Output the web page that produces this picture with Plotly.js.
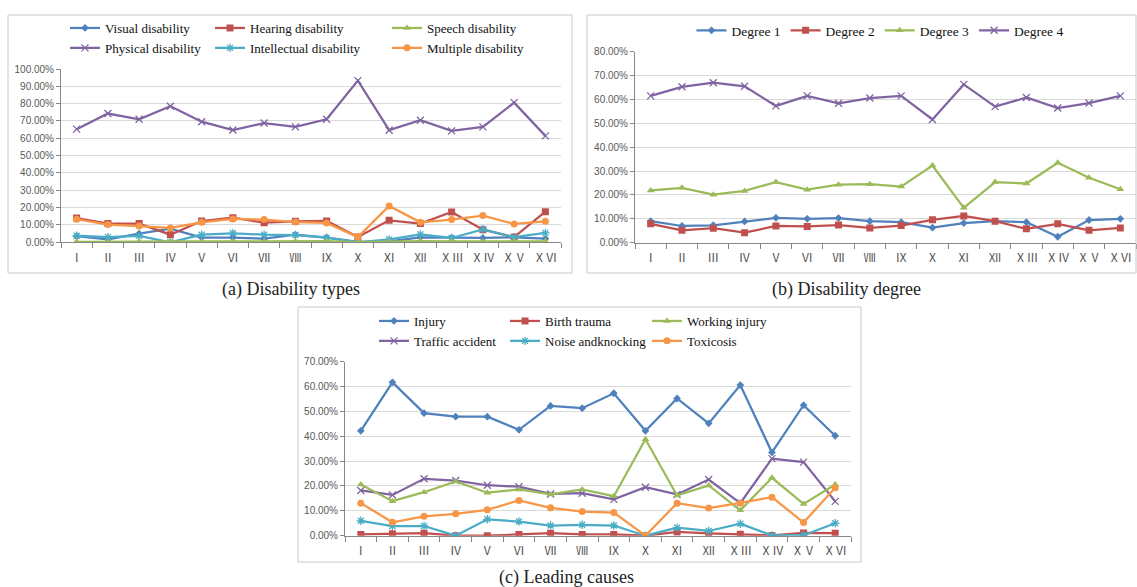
<!DOCTYPE html>
<html>
<head>
<meta charset="utf-8">
<script src="https://cdn.plot.ly/plotly-3.0.1.min.js"></script>
<style>html,body{margin:0;padding:0;background:#fff;}#chart{width:1137px;height:587px;}</style>
</head>
<body>
<div id="chart"></div>
<script>
// Categories (regions I..XVI)
const categories = ['Ⅰ','Ⅱ','Ⅲ','Ⅳ','Ⅴ','Ⅵ','Ⅶ','Ⅷ','Ⅸ','Ⅹ','Ⅺ','Ⅻ','ⅩⅢ','ⅩⅣ','ⅩⅤ','ⅩⅥ'];

// (a) Disability types, %
const visualDisability       = [3.5, 1.7, 5.0, 7.9, 2.7, 2.7, 2.1, 4.4, 2.7, 0.2, 0.6, 2.9, 2.7, 2.5, 2.9, 2.1];
const hearingDisability      = [14.0, 10.8, 10.8, 4.4, 12.3, 14.2, 11.3, 12.1, 12.3, 3.0, 12.7, 10.8, 17.5, 7.3, 3.0, 17.7];
const speechDisability       = [0.3, 0.2, 0.4, 0.5, 0.3, 0.5, 0.5, 0.6, 0.7, 0.1, 0.5, 0.7, 0.6, 0.4, 0.5, 0.6];
const physicalDisability     = [65.3, 74.3, 71.0, 78.5, 69.6, 64.8, 68.8, 66.6, 71.0, 93.3, 64.7, 70.4, 64.3, 66.6, 80.6, 61.4];
const intellectualDisability = [3.8, 3.0, 3.7, 0.0, 4.4, 5.2, 4.4, 4.2, 2.7, 0.0, 1.7, 4.6, 2.5, 7.5, 3.0, 5.4];
const multipleDisability     = [13.3, 10.2, 9.4, 8.3, 11.5, 13.5, 13.1, 11.7, 11.2, 3.0, 21.0, 11.5, 13.1, 15.4, 10.6, 12.1];

// (b) Disability degree, %
const degree1 = [9.0, 7.0, 7.3, 8.9, 10.4, 10.0, 10.3, 9.0, 8.6, 6.3, 8.2, 9.0, 8.6, 2.5, 9.5, 10.0];
const degree2 = [7.9, 5.2, 6.1, 4.2, 7.0, 6.8, 7.4, 6.2, 7.2, 9.6, 11.2, 9.0, 5.8, 7.9, 5.2, 6.2];
const degree3 = [21.9, 23.0, 20.1, 21.7, 25.4, 22.2, 24.3, 24.5, 23.5, 32.3, 14.6, 25.4, 24.8, 33.5, 27.2, 22.4];
const degree4 = [61.5, 65.3, 67.0, 65.5, 57.3, 61.5, 58.4, 60.6, 61.5, 51.6, 66.3, 57.0, 60.8, 56.4, 58.5, 61.5];

// (c) Leading causes, %
const injury         = [42.2, 61.7, 49.3, 47.9, 47.9, 42.6, 52.2, 51.3, 57.3, 42.2, 55.2, 45.2, 60.6, 33.5, 52.5, 40.2];
const birthTrauma    = [0.5, 0.8, 1.0, 0.0, 0.0, 0.5, 1.0, 0.5, 0.5, 0.0, 1.5, 0.9, 0.6, 0.1, 1.1, 1.0];
const workingInjury  = [20.6, 13.9, 17.5, 21.8, 17.3, 18.6, 16.6, 18.6, 15.9, 38.8, 16.2, 20.2, 10.2, 23.3, 12.8, 20.6];
const trafficAccident= [18.2, 16.4, 22.9, 22.2, 20.3, 19.7, 16.8, 17.1, 14.6, 19.5, 16.6, 22.6, 13.1, 31.0, 29.6, 13.8];
const noiseKnocking  = [6.0, 3.9, 3.9, 0.0, 6.6, 5.7, 4.1, 4.4, 4.1, 0.0, 3.2, 1.9, 4.8, 0.1, 0.2, 5.0];
const toxicosis      = [13.1, 5.4, 7.8, 8.8, 10.4, 14.2, 11.2, 9.7, 9.3, 0.0, 13.1, 11.1, 13.2, 15.5, 5.3, 19.3];

const C = {blue:'#4F81BD', red:'#C0504D', green:'#9BBB59', purple:'#8064A2', cyan:'#4BACC6', orange:'#F79646'};
const W = 1137, H = 587;
const px = v => v / W;
const py = v => 1 - v / H;
const SERIF = 'Liberation Serif';

function tr(name, y, color, symbol, size, xa, ya, legend) {
  const thin = symbol.indexOf('x') === 0 || symbol.indexOf('asterisk') === 0;
  return {
    type: 'scatter', mode: 'lines+markers', name: name,
    x: categories, y: y, xaxis: xa, yaxis: ya, legend: legend,
    line: {color: color, width: 2.25},
    marker: {color: color, symbol: symbol, size: size, line: {color: color, width: thin ? 1.3 : 0}},
    hoverinfo: 'x+y+name'
  };
}

const data = [
  tr('Visual disability', visualDisability, C.blue, 'diamond', 6, 'x', 'y', 'legend'),
  tr('Physical disability', physicalDisability, C.purple, 'x-thin', 7, 'x', 'y', 'legend'),
  tr('Hearing disability', hearingDisability, C.red, 'square', 7, 'x', 'y', 'legend2'),
  tr('Intellectual disability', intellectualDisability, C.cyan, 'asterisk', 7, 'x', 'y', 'legend2'),
  tr('Speech disability', speechDisability, C.green, 'triangle-up', 7, 'x', 'y', 'legend3'),
  tr('Multiple disability', multipleDisability, C.orange, 'circle', 7, 'x', 'y', 'legend3'),

  tr('Degree 1', degree1, C.blue, 'diamond', 6, 'x2', 'y2', 'legend4'),
  tr('Degree 2', degree2, C.red, 'square', 7, 'x2', 'y2', 'legend4'),
  tr('Degree 3', degree3, C.green, 'triangle-up', 7, 'x2', 'y2', 'legend4'),
  tr('Degree 4', degree4, C.purple, 'x-thin', 7, 'x2', 'y2', 'legend4'),

  tr('Injury', injury, C.blue, 'diamond', 6, 'x3', 'y3', 'legend5'),
  tr('Traffic accident', trafficAccident, C.purple, 'x-thin', 7, 'x3', 'y3', 'legend5'),
  tr('Birth trauma', birthTrauma, C.red, 'square', 7, 'x3', 'y3', 'legend6'),
  tr('Noise andknocking', noiseKnocking, C.cyan, 'asterisk', 7, 'x3', 'y3', 'legend6'),
  tr('Working injury', workingInjury, C.green, 'triangle-up', 7, 'x3', 'y3', 'legend7'),
  tr('Toxicosis', toxicosis, C.orange, 'circle', 7, 'x3', 'y3', 'legend7')
];

function xaxis(d0, d1, anchor) {
  return {domain: [px(d0), px(d1)], anchor: anchor, type: 'category', range: [-0.5, 15.5],
    showline: true, linecolor: '#868686', linewidth: 1, ticks: 'outside', tickson: 'boundaries',
    ticklen: 5, tickcolor: '#868686', showgrid: false, zeroline: false, tickangle: 0,
    ticklabelstandoff: 4,
    tickfont: {family: 'Noto Sans CJK SC', size: 12, color: '#595959'}};
}
function yaxis(top, bottom, maxv, anchor) {
  return {domain: [py(bottom), py(top)], anchor: anchor, range: [0, maxv], dtick: 10, tick0: 0,
    tickformat: '.2f', ticksuffix: '%', showline: true, linecolor: '#868686', linewidth: 1,
    ticks: 'outside', ticklen: 4, tickcolor: '#868686', gridcolor: '#d9d9d9', gridwidth: 1,
    zeroline: false, tickfont: {family: 'Liberation Sans', size: 10, color: '#595959'}};
}
function leg(textX, rowTop) {
  return {x: px(textX - 40), y: py(rowTop), xanchor: 'left', yanchor: 'top', orientation: 'v',
    bgcolor: 'rgba(0,0,0,0)', borderwidth: 0, tracegroupgap: 0,
    font: {family: SERIF, size: 13, color: '#111'}};
}

const boxStyle = {type: 'rect', xref: 'paper', yref: 'paper', line: {color: '#c8c8c8', width: 1}, fillcolor: 'rgba(0,0,0,0)'};
const capFont = {family: SERIF, size: 18, color: '#222'};

const layout = {
  width: W, height: H, margin: {l: 0, r: 0, t: 0, b: 0},
  paper_bgcolor: '#fff', plot_bgcolor: '#fff', showlegend: true,
  xaxis: xaxis(61, 561, 'y'),
  yaxis: yaxis(69, 242.3, 100, 'x'),
  xaxis2: xaxis(635, 1136, 'y2'),
  yaxis2: yaxis(51.7, 242.7, 80, 'x2'),
  xaxis3: xaxis(345, 851, 'y3'),
  yaxis3: yaxis(361.7, 535.7, 70, 'x3'),
  legend: leg(105, 13),
  legend2: leg(250, 13),
  legend3: leg(427, 13),
  legend4: {x: px(880), y: py(15), xanchor: 'center', yanchor: 'top', orientation: 'h',
    bgcolor: 'rgba(0,0,0,0)', borderwidth: 0, font: {family: SERIF, size: 13.5, color: '#111'}},
  legend5: leg(414, 306),
  legend6: leg(545, 306),
  legend7: leg(687, 306),
  shapes: [
    Object.assign({}, boxStyle, {x0: px(8), x1: px(572), y0: py(273), y1: py(15)}),
    Object.assign({}, boxStyle, {x0: px(587), x1: px(1136), y0: py(273), y1: py(15)}),
    Object.assign({}, boxStyle, {x0: px(298), x1: px(861), y0: py(562), y1: py(307)})
  ],
  annotations: [
    {text: '(a) Disability types', x: px(291), y: py(289), xref: 'paper', yref: 'paper', showarrow: false,
     xanchor: 'center', yanchor: 'middle', font: capFont},
    {text: '(b) Disability degree', x: px(846), y: py(289), xref: 'paper', yref: 'paper', showarrow: false,
     xanchor: 'center', yanchor: 'middle', font: capFont},
    {text: '(c) Leading causes', x: px(566), y: py(577), xref: 'paper', yref: 'paper', showarrow: false,
     xanchor: 'center', yanchor: 'middle', font: capFont}
  ]
};

Plotly.newPlot('chart', data, layout, {displayModeBar: false, staticPlot: true});
</script>
</body>
</html>
